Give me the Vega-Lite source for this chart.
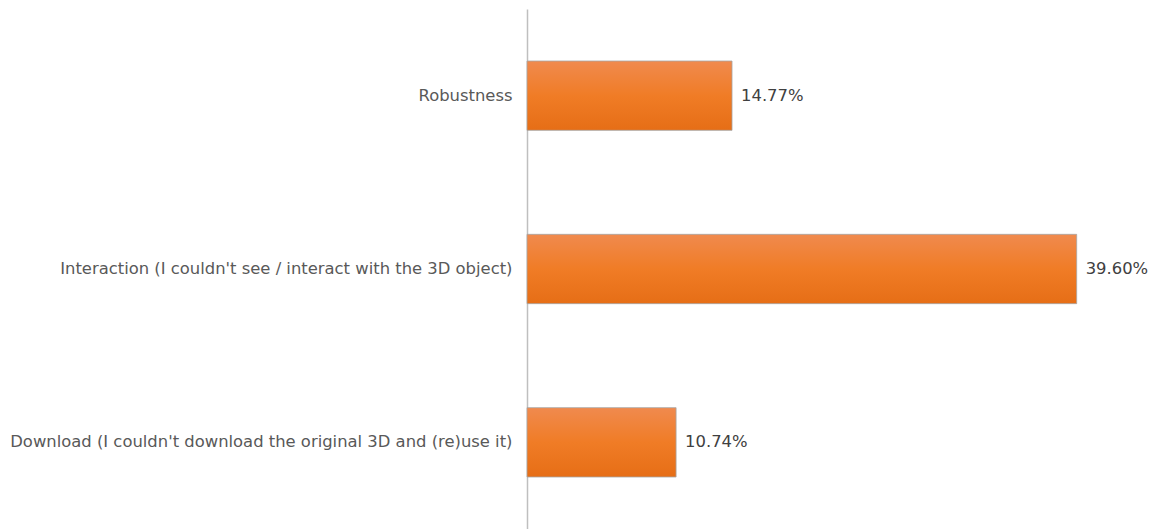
{
  "$schema": "https://vega.github.io/schema/vega-lite/v6.json",
  "autosize": "none",
  "padding": {"left": 527, "top": 9, "right": 47, "bottom": 0},
  "width": 583,
  "height": 520,
  "background": "white",
  "data": {"values": [
    {"category": "Robustness", "value": 14.77, "label": "14.77%"},
    {"category": "Interaction (I couldn't see / interact with the 3D object)", "value": 39.60, "label": "39.60%"},
    {"category": "Download (I couldn't download the original 3D and (re)use it)", "value": 10.74, "label": "10.74%"}
  ]},
  "encoding": {
    "y": {"field": "category", "type": "nominal", "sort": null,
      "scale": {"paddingInner": 0.6, "paddingOuter": 0.3},
      "axis": {"title": null, "ticks": false, "domainColor": "#BFBFBF", "domainWidth": 1.5,
        "labelFont": "DejaVu Sans", "labelFontSize": 16.4, "labelColor": "#595959", "labelPadding": 15, "labelLimit": 600}},
    "x": {"field": "value", "type": "quantitative", "scale": {"domain": [0, 42]}, "axis": null}
  },
  "layer": [
    {"mark": {"type": "bar", "stroke": "#A6A6A6", "strokeWidth": 0.8,
      "color": {"gradient": "linear", "x1": 0, "y1": 0, "x2": 0, "y2": 1,
        "stops": [{"offset": 0, "color": "#F08A4E"}, {"offset": 0.5, "color": "#F07C26"}, {"offset": 1, "color": "#E66E16"}]}}},
    {"mark": {"type": "text", "align": "left", "dx": 9, "font": "DejaVu Sans", "fontSize": 16.4, "color": "#404040"},
      "encoding": {"text": {"field": "label"}}}
  ],
  "config": {"view": {"stroke": null}}
}
